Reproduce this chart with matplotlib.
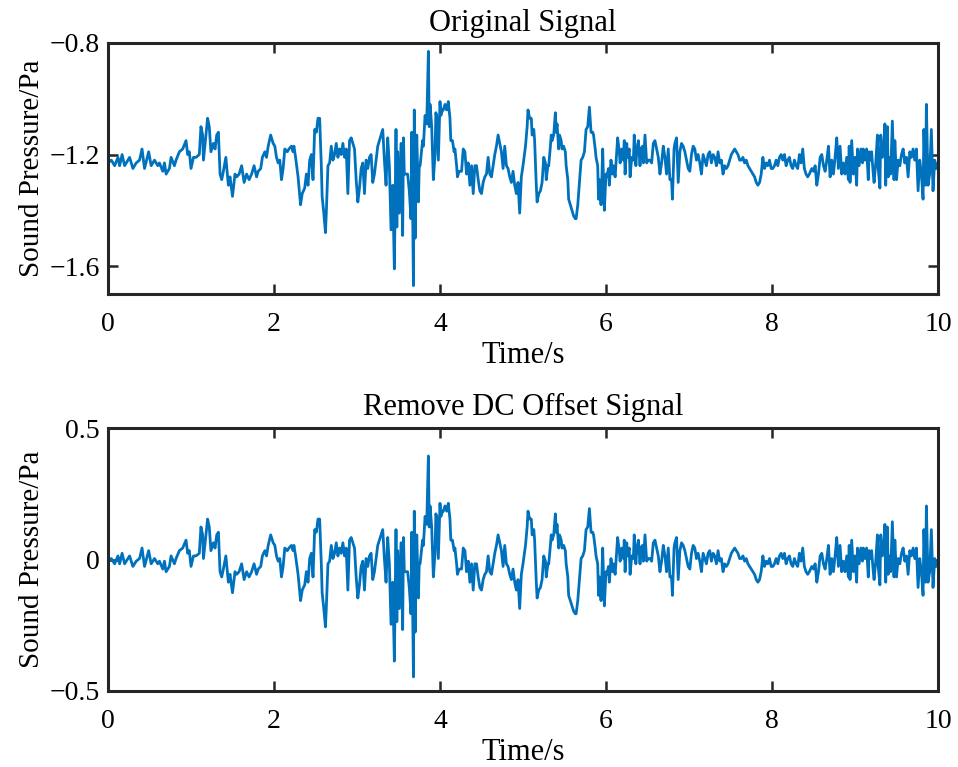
import numpy as np
import matplotlib
matplotlib.use("Agg")
import matplotlib.pyplot as plt

# ---- data (time in s, sound pressure in Pa) ----
time_s = [
    0.00, 0.04, 0.08, 0.12, 0.14, 0.17, 0.20, 0.24, 0.26, 0.30, 0.34, 0.38, 0.41, 0.44, 0.49, 0.52,
    0.56, 0.60, 0.62, 0.66, 0.68, 0.70, 0.74, 0.76, 0.80, 0.82, 0.86, 0.90, 0.94, 0.96, 0.98, 1.00,
    1.03, 1.06, 1.10, 1.12, 1.14, 1.15, 1.18, 1.20, 1.22, 1.24, 1.27, 1.29, 1.31, 1.33, 1.35, 1.37,
    1.39, 1.42, 1.45, 1.47, 1.50, 1.53, 1.55, 1.58, 1.61, 1.64,
    1.67, 1.70, 1.73, 1.76, 1.79, 1.81, 1.84, 1.86, 1.89, 1.91, 1.93, 1.96, 1.99, 2.01, 2.03, 2.05,
    2.07, 2.09, 2.11, 2.13, 2.16, 2.18, 2.21, 2.23, 2.24, 2.26, 2.29, 2.32, 2.34, 2.37, 2.39, 2.41,
    2.43, 2.45, 2.47, 2.49, 2.51, 2.53, 2.55, 2.57, 2.58, 2.60, 2.62, 2.63, 2.65, 2.67, 2.69, 2.71,
    2.73, 2.75, 2.77, 2.79, 2.81, 2.83, 2.85, 2.87, 2.89, 2.91, 2.93, 2.95, 2.97, 2.99, 3.01, 3.03,
    3.05, 3.07, 3.09, 3.11, 3.13, 3.15, 3.17, 3.19, 3.21, 3.23, 3.25, 3.27, 3.29, 3.31, 3.33,
    3.35, 3.37, 3.39, 3.41, 3.43, 3.45, 3.47, 3.48, 3.49, 3.51, 3.53, 3.55, 3.56, 3.57, 3.59, 3.61,
    3.63, 3.65, 3.66, 3.68, 3.69, 3.70, 3.72, 3.74, 3.75, 3.76, 3.79, 3.80, 3.82, 3.84, 3.86, 3.87,
    3.88, 3.90, 3.92, 3.94, 3.95, 3.96, 3.98, 4.00, 4.01, 4.03, 4.04, 4.06, 4.08, 4.10, 4.12, 4.13,
    4.15, 4.17, 4.18, 4.20, 4.21, 4.23, 4.26, 4.28, 4.30, 4.32, 4.34, 4.36, 4.38, 4.40, 4.42, 4.44,
    4.46, 4.48, 4.50, 4.52, 4.54, 4.56, 4.58, 4.60, 4.62, 4.64, 4.66, 4.68, 4.70, 4.72, 4.74, 4.76,
    4.78, 4.80, 4.82, 4.84, 4.86, 4.88, 4.90, 4.92, 4.94, 4.96, 4.98, 5.00,
    5.03, 5.05, 5.06, 5.08, 5.10, 5.11, 5.13, 5.14, 5.16, 5.17, 5.19, 5.21, 5.23, 5.25, 5.27, 5.28,
    5.30, 5.31, 5.33, 5.34, 5.35, 5.37, 5.39, 5.40, 5.41, 5.43, 5.44, 5.46, 5.47, 5.49, 5.51, 5.52,
    5.54, 5.55, 5.57, 5.60, 5.61, 5.63, 5.64, 5.66, 5.68, 5.70, 5.72, 5.74, 5.76, 5.78, 5.80, 5.82,
    5.84, 5.85, 5.87, 5.88, 5.90, 5.91, 5.92, 5.94, 5.95, 5.96, 5.98, 6.00, 6.01, 6.03, 6.04, 6.06,
    6.08, 6.09, 6.11, 6.13, 6.14, 6.16, 6.17, 6.19, 6.21, 6.22, 6.23, 6.25, 6.26, 6.28, 6.29, 6.31,
    6.33, 6.34, 6.36, 6.37, 6.39, 6.41, 6.42, 6.44, 6.45, 6.47, 6.49, 6.51, 6.53, 6.55, 6.57, 6.59,
    6.61, 6.63, 6.65, 6.67, 6.69,
    6.71, 6.73, 6.75, 6.77, 6.79, 6.80, 6.82, 6.83, 6.85, 6.87, 6.89, 6.91, 6.93, 6.95, 6.97, 6.99,
    7.01, 7.03, 7.05, 7.07, 7.09, 7.11, 7.13, 7.15, 7.17, 7.19, 7.21, 7.23, 7.25, 7.27, 7.29, 7.31,
    7.33, 7.35, 7.37, 7.39, 7.41, 7.43, 7.45, 7.47, 7.49, 7.51, 7.53, 7.55, 7.57, 7.59, 7.61, 7.63,
    7.65, 7.67, 7.69, 7.71, 7.73, 7.75, 7.77, 7.79, 7.81, 7.83, 7.85, 7.87, 7.89, 7.91, 7.93, 7.95,
    7.97, 7.99, 8.01, 8.03, 8.05, 8.07, 8.09, 8.11, 8.13, 8.15, 8.17, 8.19, 8.21, 8.23, 8.25, 8.27,
    8.29, 8.31, 8.33, 8.35, 8.37, 8.39,
    8.40, 8.41, 8.43, 8.45, 8.48, 8.50, 8.52, 8.54, 8.56, 8.58, 8.60, 8.62, 8.64, 8.66, 8.68, 8.70,
    8.72, 8.74, 8.76, 8.78, 8.80, 8.82, 8.84, 8.86, 8.88, 8.90, 8.92, 8.93, 8.94, 8.96, 8.98, 9.00,
    9.02, 9.03, 9.05, 9.07, 9.09, 9.10, 9.12, 9.14, 9.16, 9.17, 9.19, 9.20, 9.22, 9.23, 9.25, 9.27,
    9.28, 9.30, 9.31, 9.33, 9.35, 9.36, 9.37, 9.39, 9.40, 9.41, 9.43, 9.45, 9.47, 9.48, 9.50, 9.52,
    9.54, 9.56, 9.58, 9.60, 9.62, 9.64, 9.66, 9.68, 9.70, 9.72, 9.74, 9.76, 9.78, 9.80, 9.82, 9.83,
    9.85, 9.86, 9.88, 9.90, 9.92, 9.94, 9.96, 9.98, 10.00,
]

pressure_pa = [
    -1.23, -1.22, -1.24, -1.21, -1.24, -1.20, -1.24, -1.22, -1.21, -1.25, -1.23, -1.22, -1.18, -1.25, -1.19, -1.24,
    -1.22, -1.24, -1.23, -1.26, -1.23, -1.27, -1.25, -1.21, -1.24, -1.22, -1.19, -1.18, -1.15, -1.20, -1.19, -1.25,
    -1.21, -1.21, -1.20, -1.10, -1.13, -1.22, -1.13, -1.07, -1.10, -1.19, -1.16, -1.18, -1.13, -1.12, -1.27, -1.29,
    -1.26, -1.21, -1.31, -1.28, -1.35, -1.27, -1.28, -1.27, -1.24, -1.30,
    -1.27, -1.29, -1.27, -1.24, -1.28, -1.26, -1.25, -1.21, -1.19, -1.21, -1.17, -1.13, -1.16, -1.17, -1.21, -1.23,
    -1.22, -1.29, -1.25, -1.18, -1.19, -1.18, -1.17, -1.19, -1.17, -1.21, -1.28, -1.38, -1.34, -1.32, -1.27, -1.31,
    -1.22, -1.20, -1.29, -1.11, -1.12, -1.07, -1.07, -1.24, -1.35, -1.41, -1.48, -1.41, -1.24, -1.23, -1.17, -1.22,
    -1.20, -1.16, -1.21, -1.18, -1.20, -1.16, -1.21, -1.18, -1.34, -1.15, -1.14, -1.16, -1.18, -1.29, -1.37, -1.32,
    -1.25, -1.23, -1.34, -1.22, -1.25, -1.21, -1.20, -1.30, -1.27, -1.22, -1.17, -1.15, -1.13, -1.11, -1.22,
    -1.31, -1.14, -1.24, -1.47, -1.31, -1.61, -1.11, -1.46, -1.19, -1.41, -1.16, -1.49, -1.14, -1.27, -1.27, -1.27,
    -1.33, -1.43, -1.12, -1.67, -1.04, -1.50, -1.13, -1.37, -1.24, -1.24, -1.15, -1.17, -1.06, -1.09, -0.83, -1.10,
    -1.02, -1.10, -1.29, -1.20, -1.05, -1.06, -1.22, -1.01, -1.06, -1.04, -1.04, -1.02, -1.04, -1.01, -1.07, -1.15,
    -1.15, -1.19, -1.18, -1.24, -1.28, -1.26, -1.26, -1.18, -1.19, -1.27, -1.23, -1.31, -1.24, -1.34, -1.24, -1.24,
    -1.29, -1.33, -1.34, -1.30, -1.28, -1.27, -1.21, -1.27, -1.28, -1.24, -1.20, -1.17, -1.13, -1.16, -1.19, -1.25,
    -1.17, -1.24, -1.25, -1.28, -1.30, -1.26, -1.31, -1.34, -1.30, -1.41, -1.28, -1.24,
    -1.17, -1.10, -1.04, -1.07, -1.07, -1.13, -1.11, -1.15, -1.31, -1.37, -1.34, -1.33, -1.30, -1.21, -1.23, -1.29,
    -1.24, -1.24, -1.17, -1.13, -1.15, -1.13, -1.05, -1.12, -1.09, -1.18, -1.13, -1.15, -1.18, -1.17, -1.19, -1.24,
    -1.29, -1.36, -1.38, -1.41, -1.42, -1.43, -1.43, -1.38, -1.30, -1.22, -1.21, -1.19, -1.11, -1.10, -1.03, -1.12,
    -1.12, -1.13, -1.18, -1.21, -1.24, -1.36, -1.29, -1.38, -1.29, -1.18, -1.40, -1.27, -1.28, -1.25, -1.31, -1.22,
    -1.27, -1.24, -1.28, -1.19, -1.14, -1.19, -1.23, -1.18, -1.22, -1.15, -1.27, -1.16, -1.21, -1.18, -1.28, -1.21,
    -1.22, -1.13, -1.24, -1.19, -1.15, -1.24, -1.18, -1.17, -1.23, -1.13, -1.23, -1.22, -1.22, -1.23, -1.16, -1.15,
    -1.18, -1.21, -1.27, -1.23, -1.17,
    -1.21, -1.27, -1.18, -1.29, -1.29, -1.36, -1.18, -1.16, -1.14, -1.30, -1.19, -1.16, -1.17, -1.19, -1.22, -1.25,
    -1.26, -1.20, -1.17, -1.18, -1.22, -1.20, -1.23, -1.27, -1.20, -1.22, -1.24, -1.20, -1.19, -1.23, -1.20, -1.21,
    -1.24, -1.19, -1.23, -1.22, -1.27, -1.24, -1.25, -1.24, -1.22, -1.20, -1.19, -1.18, -1.19, -1.20, -1.22, -1.22,
    -1.21, -1.23, -1.22, -1.24, -1.25, -1.26, -1.27, -1.28, -1.30, -1.31, -1.30, -1.27, -1.21, -1.25, -1.23, -1.24,
    -1.22, -1.25, -1.25, -1.24, -1.22, -1.24, -1.21, -1.20, -1.22, -1.20, -1.24, -1.22, -1.21, -1.24, -1.25, -1.22,
    -1.24, -1.25, -1.20, -1.23, -1.18, -1.25,
    -1.26, -1.27, -1.28, -1.27, -1.25, -1.26, -1.24, -1.31, -1.27, -1.21, -1.20, -1.24, -1.26, -1.22, -1.17, -1.28,
    -1.22, -1.27, -1.21, -1.14, -1.25, -1.17, -1.27, -1.23, -1.27, -1.21, -1.29, -1.17, -1.30, -1.15, -1.27, -1.21,
    -1.31, -1.18, -1.24, -1.18, -1.23, -1.18, -1.22, -1.18, -1.29, -1.19, -1.22, -1.19, -1.27, -1.30, -1.23, -1.13,
    -1.25, -1.32, -1.13, -1.21, -1.15, -1.09, -1.31, -1.10, -1.28, -1.21, -1.27, -1.08, -1.29, -1.15, -1.29, -1.22,
    -1.24, -1.20, -1.18, -1.23, -1.21, -1.28, -1.19, -1.21, -1.18, -1.22, -1.18, -1.33, -1.22, -1.27, -1.36, -1.11,
    -1.31, -1.02, -1.31, -1.27, -1.11, -1.33, -1.22, -1.25, -1.23,
]

titles = ["Original Signal", "Remove DC Offset Signal"]
x_label = "Time/s"
y_label = "Sound Pressure/Pa"
x_ticks = [0, 2, 4, 6, 8, 10]
x_tick_labels = ["0", "2", "4", "6", "8", "10"]
y_ticks_top = [-1.6, -1.2, -0.8]
y_tick_labels_top = ["\u22121.6", "\u22121.2", "\u22120.8"]
y_ticks_bottom = [-0.5, 0, 0.5]
y_tick_labels_bottom = ["\u22120.5", "0", "0.5"]

t = np.asarray(time_s)
p = np.asarray(pressure_pa)
p_dc = p - p.mean()

plt.rcParams["font.family"] = ["Liberation Serif", "DejaVu Serif"]

line_color = "#0072BD"
frame_color = "#262626"
fs_title = 22
fs_label = 21
fs_tick = 20

fig = plt.figure(figsize=(9.58, 7.67), dpi=100)
W, H = 958, 767
ax1 = fig.add_axes([108 / W, (H - 294) / H, 830 / W, 251 / H])
ax2 = fig.add_axes([108 / W, (H - 691) / H, 830 / W, 263 / H])

for ax, y, title, yl, ytk, ytl in [
    (ax1, p, titles[0], (-1.7, -0.8), y_ticks_top, y_tick_labels_top),
    (ax2, p_dc, titles[1], (-0.5, 0.5), y_ticks_bottom, y_tick_labels_bottom),
]:
    ax.plot(t, y, color=line_color, linewidth=2.0)
    ax.set_xlim(0, 10)
    ax.set_ylim(*yl)
    ax.set_xticks(x_ticks)
    ax.set_xticklabels(x_tick_labels)
    ax.set_yticks(ytk)
    ax.set_yticklabels(ytl)
    ax.set_title(title, fontsize=fs_title, pad=9, color="black")
    ax.set_xlabel(x_label, fontsize=fs_title, labelpad=3)
    ax.set_ylabel(y_label, fontsize=fs_label, labelpad=3)
    ax.tick_params(direction="in", length=7, width=1.8, colors=frame_color,
                   labelsize=fs_tick, labelcolor="black", top=True, right=True)
    ax.tick_params(axis="x", pad=13)
    ax.tick_params(axis="y", pad=6)
    for s in ax.spines.values():
        s.set_linewidth(2.2)
        s.set_color(frame_color)

fig.savefig("out.png", dpi=100)
